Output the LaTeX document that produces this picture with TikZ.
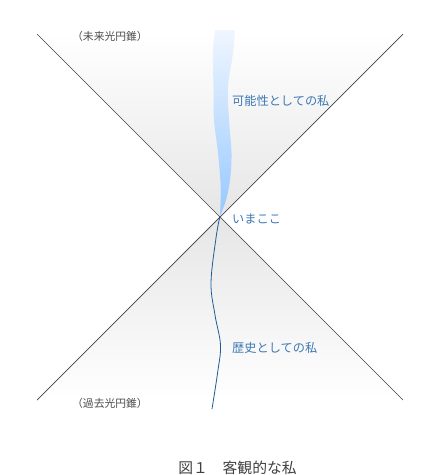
\documentclass[tikz,border=0pt]{standalone}
\usepackage{fontspec}
\setmainfont{Noto Sans CJK JP}
\begin{document}
\begin{tikzpicture}[x=1pt,y=-1pt,
  cone/.style={draw=black!75,line width=0.7pt},
  bluelabel/.style={anchor=west,inner sep=0pt,font=\fontsize{12.2}{14}\selectfont},
  greylabel/.style={text=black!70,anchor=west,inner sep=0pt,font=\fontsize{10.8}{12}\selectfont}]
\definecolor{lbl}{HTML}{3D78B4}
\useasboundingbox (0,0) rectangle (440,475);
\coordinate (apex) at (220,216);
\coordinate (tl) at (37,34);
\coordinate (tr) at (403,34);
\coordinate (bl) at (37,400);
\coordinate (br) at (403,400);
% cone fills
\shade[top color=white,bottom color=black!10] (tl) -- (tr) -- (apex) -- cycle;
\shade[top color=black!10,bottom color=white] (apex) -- (bl) -- (br) -- cycle;
% possibility band
\shade[top color={rgb,255:red,240;green,246;blue,255},bottom color={rgb,255:red,150;green,200;blue,255}]
  plot[smooth,tension=0.6] coordinates {(215,30) (213,53) (213.5,87) (214,120) (218,153) (220.7,187) (220,216)}
  -- plot[smooth,tension=0.6] coordinates {(220,216) (226,200) (230,180) (231.5,153) (229,120) (228,87) (233,53) (235,30)}
  -- cycle;
% cone lines
\draw[cone] (tl) -- (br);
\draw[cone] (tr) -- (bl);
% history line
\draw[color={rgb,255:red,30;green,90;blue,150},line width=0.8pt]
  plot[smooth,tension=0.6] coordinates {(220,216) (216,238) (211,283) (215,315) (220.5,345) (217.7,372) (212,409)};
% labels
\node[greylabel] (future) at (72,36) {（未来光円錐）};
\node[greylabel] (past) at (72,403) {（過去光円錐）};
\node[bluelabel,text=lbl] (poss) at (232,101) {可能性としての私};
\node[bluelabel,text=lbl] (now) at (232,219) {いまここ};
\node[bluelabel,text=lbl] (hist) at (232,348) {歴史としての私};
\node[text=black!75,inner sep=0pt,font=\fontsize{14.8}{16}\selectfont] (cap) at (237.5,468) {図１\hspace{1em}客観的な私};
\end{tikzpicture}
\end{document}
